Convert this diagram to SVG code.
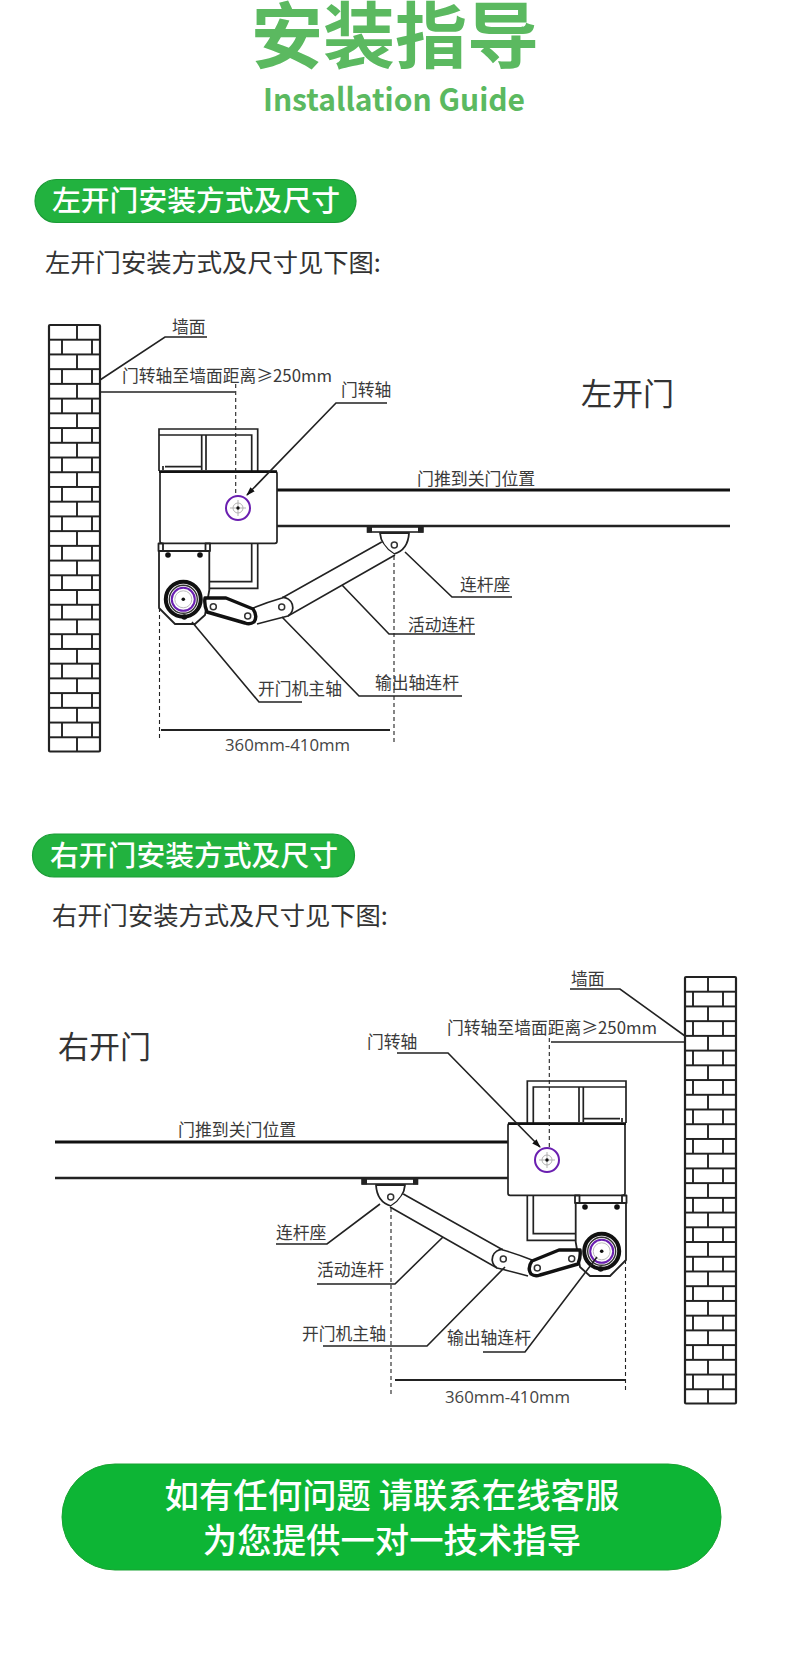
<svg xmlns="http://www.w3.org/2000/svg" xmlns:xlink="http://www.w3.org/1999/xlink" width="790" height="1675" viewBox="0 0 790 1675">
<style>
text{font-family:"Noto Sans CJK SC","Noto Sans",sans-serif}
.lb{font-size:16.8px;fill:#3a3a3a}
.dr{font-size:16.9px;fill:#3a3a3a}
.dim{font-size:16.8px;fill:#444;font-family:"Open Sans","Noto Sans",sans-serif}
.sub{font-size:25.3px;fill:#333}
.big{font-size:31px;fill:#333}
.pt{font-size:28.8px;fill:#fff;font-weight:500}
.bt{font-size:34.4px;fill:#fff;font-weight:500;text-anchor:middle}
.pill{fill:#22b23f;stroke:#1b9c36;stroke-width:1.2}
.l{fill:none;stroke:#222;stroke-width:1.6}
.d{fill:none;stroke:#222;stroke-width:1.1;stroke-dasharray:4 3}
.m{fill:none;stroke:#222;stroke-width:1.7}
.w{fill:#fff;stroke:#222;stroke-width:1.8;stroke-linejoin:round}
.t{fill:#fff;stroke:#111;stroke-width:3.4;stroke-linejoin:round}
.p{fill:#fff;stroke:#333;stroke-width:1.5}
.v{fill:none;stroke:#6a1fb0;stroke-width:2}
</style>
<defs>
<pattern id="brick" patternUnits="userSpaceOnUse" x="49" y="324" width="51" height="29.45">
<path d="M0 1H51M0 15.7H51M28 1V15.7M13 15.7V30.5M43 15.7V30.5" fill="none" stroke="#222" stroke-width="1.9"/>
</pattern>
<marker id="ah" markerWidth="9" markerHeight="7" refX="8" refY="3" orient="auto" markerUnits="userSpaceOnUse">
<path d="M0 0L9 3L0 6z" fill="#111"/>
</marker>
<g id="wall">
<rect x="49" y="325" width="51" height="426.5" fill="url(#brick)" stroke="#222" stroke-width="2.2" rx="1"/>
</g>
<g id="mech">
<path class="m" d="M159 471V429H257.7V588.3H210M159 435H251.7V581.7H210M201.7 435V470M206 435V470M165 466.7H201.7M163 470V466"/>
<path d="M277 490H730" fill="none" stroke="#111" stroke-width="3.2"/>
<path d="M277 526H730" fill="none" stroke="#222" stroke-width="2.4"/>
<rect x="160" y="471.7" width="117" height="71.6" rx="2" fill="#fff" stroke="#222" stroke-width="1.7"/>
<path d="M159 471.7H277" fill="none" stroke="#111" stroke-width="2.8"/>
<circle class="v" cx="238" cy="508" r="12"/>
<path d="M230 508H246M238 500V516" fill="none" stroke="#aaa" stroke-width=".9"/>
<circle cx="238" cy="508" r="5" fill="none" stroke="#aaa" stroke-width=".9"/>
<circle cx="238" cy="508" r="1.7" fill="#111"/>
<rect x="367.5" y="527" width="55.5" height="5" fill="#fff" stroke="#222" stroke-width="1.6"/>
<path d="M367 526.5h5v6h-5zM418 526.5h5v6h-5z" fill="#222"/>
<path class="w" d="M380 533Q381 546 394 554Q408 550 409 533z"/>
<circle class="p" cx="394.3" cy="545" r="3"/>
<path d="M381.7 542L282 598L253 608L257 624L287 617L395 555L388 550z" fill="#fff"/>
<path class="l" d="M381.7 542L282 598Q268 602 253 608M395 555L288 616Q272 620 257 624"/>
<path class="m" d="M282 597.5A10 10 0 0 1 288 616"/>
<path class="w" d="M158.5 543.5H163V551H158.5zM205.5 543.5H210V551H205.5z"/>
<path class="w" d="M159 551H209.3V590L205 615L195 624H175L159 608z"/>
<circle cx="168" cy="555" r="2.8" fill="#111"/>
<circle cx="200" cy="555" r="2.8" fill="#111"/>
<path class="t" d="M205 598H226L253 609Q258 616 254 622Q250 625 245 623L207 612Q204 605 205 598z"/>
<circle class="p" cx="213.3" cy="606.7" r="3"/>
<circle class="p" cx="247.7" cy="616" r="3"/>
<circle class="p" cx="281.7" cy="607" r="3"/>
<circle cx="183.3" cy="599.3" r="17.5" fill="#fff" stroke="#111" stroke-width="4"/>
<circle cx="183.3" cy="599.3" r="14" fill="none" stroke="#333" stroke-width="1.4"/>
<circle class="v" cx="183.3" cy="599.3" r="11.5"/>
<circle cx="183.3" cy="599.3" r="8.5" fill="#fff" stroke="#bbb" stroke-width="1"/>
<circle cx="183.3" cy="599.3" r="1.8" fill="#111"/>
<circle cx="184.3" cy="617" r="2.8" fill="#111"/>
<path d="M159.5 608V740M394 556V743" class="d"/>
</g>
</defs>

<g id="title">
<text x="395" y="62" font-size="72" font-weight="700" fill="#5bb960" text-anchor="middle">安装指导</text>
<text x="394" y="111" font-size="31" font-weight="700" fill="#5bb960" text-anchor="middle" textLength="262" lengthAdjust="spacingAndGlyphs">Installation Guide</text>
</g>

<g id="left-header">
<rect class="pill" x="35" y="179.5" width="321" height="43" rx="21.5"/>
<text class="pt" x="52" y="211">左开门安装方式及尺寸</text>
</g>
<text class="sub" x="45" y="272">左开门安装方式及尺寸见下图:</text>
<text class="big" x="581" y="405">左开门</text>

<g id="left-wall"><use xlink:href="#wall" href="#wall"/></g>
<g id="left-mechanism"><use xlink:href="#mech" href="#mech"/></g>

<g id="left-connectors">
<path class="l" d="M100 380L165 337H207"/>
<path class="l" d="M100 392H235"/>
<path class="d" d="M235.7 384V495"/>
<path class="l" d="M387 403H336L247 495" marker-end="url(#ah)"/>
<path class="l" d="M512 597H452L405 552"/>
<path class="l" d="M475 634H389L342 585"/>
<path class="l" d="M462 696H359L282 617"/>
<path class="l" d="M302 702H259L192 622"/>
<path d="M161 730H390" fill="none" stroke="#222" stroke-width="1.8"/>
</g>
<g id="left-labels">
<text class="lb" x="172" y="333">墙面</text>
<text class="lb" x="122" y="382">门转轴至墙面距离≥250mm</text>
<text class="lb" x="341" y="396">门转轴</text>
<text class="dr" x="417" y="485">门推到关门位置</text>
<text class="lb" x="460" y="591">连杆座</text>
<text class="lb" x="408" y="631">活动连杆</text>
<text class="lb" x="375" y="689">输出轴连杆</text>
<text class="lb" x="258" y="695">开门机主轴</text>
<text class="dim" x="225" y="751">360mm-410mm</text>
</g>

<g id="right-header">
<rect class="pill" x="32.5" y="834" width="322" height="43" rx="21.5"/>
<text class="pt" x="50" y="866">右开门安装方式及尺寸</text>
</g>
<text class="sub" x="52" y="925">右开门安装方式及尺寸见下图:</text>
<text class="big" x="58" y="1058">右开门</text>

<g id="right-wall"><use xlink:href="#wall" href="#wall" transform="translate(785 652) scale(-1 1)"/></g>
<g id="right-mechanism"><use xlink:href="#mech" href="#mech" transform="translate(785 652) scale(-1 1)"/></g>

<g id="right-connectors">
<path class="l" d="M685 1036L620 989H570"/>
<path class="l" d="M685 1042H551"/>
<path class="d" d="M549.3 1038V1147"/>
<path class="l" d="M397 1053H448L540 1147" marker-end="url(#ah)"/>
<path class="l" d="M276 1244H327L380 1204"/>
<path class="l" d="M317 1284H395L443 1237"/>
<path class="l" d="M323 1346H427L505 1267"/>
<path class="l" d="M483 1352H525L597 1257"/>
<path d="M395 1380H625" fill="none" stroke="#222" stroke-width="1.8"/>
</g>
<g id="right-labels">
<text class="lb" x="571" y="985">墙面</text>
<text class="lb" x="447" y="1034">门转轴至墙面距离≥250mm</text>
<text class="lb" x="367" y="1048">门转轴</text>
<text class="dr" x="178" y="1136">门推到关门位置</text>
<text class="lb" x="276" y="1239">连杆座</text>
<text class="lb" x="317" y="1276">活动连杆</text>
<text class="lb" x="302" y="1340">开门机主轴</text>
<text class="lb" x="447" y="1344">输出轴连杆</text>
<text class="dim" x="445" y="1403">360mm-410mm</text>
</g>

<g id="footer">
<rect x="62" y="1464" width="659" height="106" rx="53" fill="#0db535" stroke="#19a332" stroke-width="1"/>
<text class="bt" x="392" y="1508">如有任何问题 请联系在线客服</text>
<text class="bt" x="392" y="1553">为您提供一对一技术指导</text>
</g>
</svg>
